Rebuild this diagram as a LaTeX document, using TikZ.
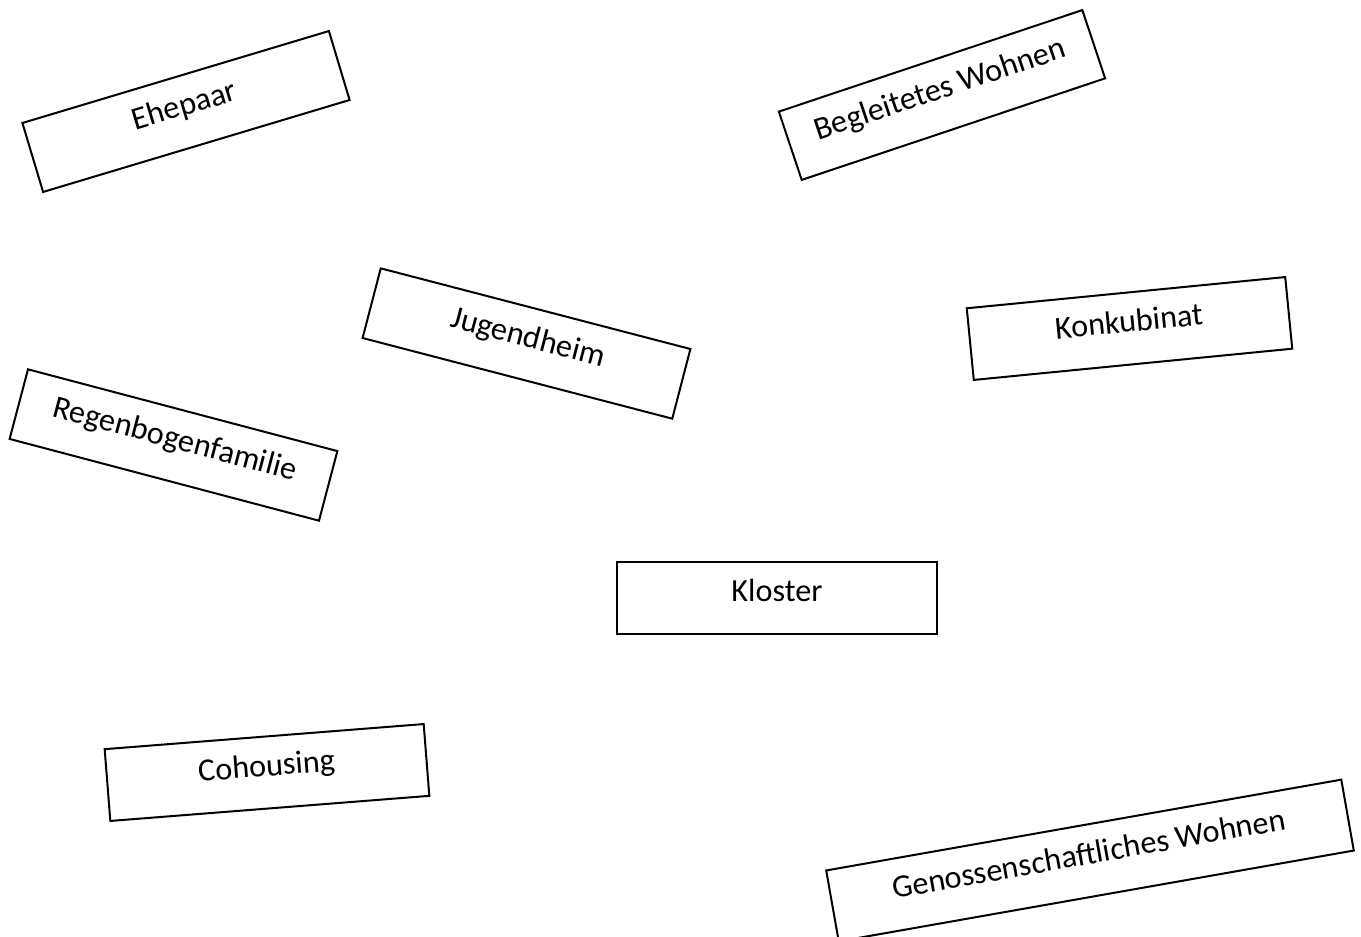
\documentclass[tikz,border=0pt]{standalone}
\usepackage{fontspec}
\setmainfont{Carlito}
\begin{document}
\begin{tikzpicture}[x=0.5pt, y=-0.5pt, every node/.style={font=\fontsize{16.1pt}{19pt}\selectfont},
  b/.style={draw, line width=1pt, minimum width=160pt, minimum height=36pt, inner sep=0pt,
    text height=0.75em, text depth=0.40em}]
  \useasboundingbox (0,0) rectangle (1361,937);
  \node[b, rotate=16.7] (ehe) at (186,111.5) {Ehepaar};
  \node[b, rotate=18.5] (begl) at (942,95) {Begleitetes Wohnen};
  \node[b, rotate=-14.6] (jug) at (526.5,343.5) {Jugendheim};
  \node[b, rotate=5.6] (konk) at (1129.5,328.5) {Konkubinat};
  \node[b, rotate=-14.8] (regen) at (173.5,445) {Regenbogenfamilie};
  \node[b] (klo) at (777,597.5) {Kloster};
  \node[b, rotate=4.5] (coh) at (267,772.5) {Cohousing};
  \node[b, minimum width=261.5pt, rotate=10] (gen) at (1090,860.5) {Genossenschaftliches Wohnen};
\end{tikzpicture}
\end{document}
